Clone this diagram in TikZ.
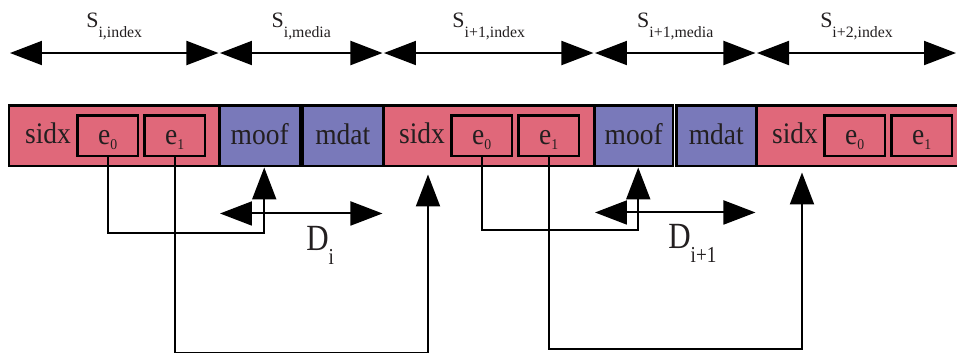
\documentclass[tikz,border=0pt]{standalone}
\usepackage{fontspec}
\setmainfont{Liberation Serif}
\newfontfamily\narrowfont[FakeStretch=0.84]{Liberation Serif}
\newfontfamily\wordfont[FakeStretch=0.92]{Liberation Serif}
\usetikzlibrary{arrows.meta}
\definecolor{idxred}{RGB}{224,104,122}
\definecolor{medblue}{RGB}{121,121,186}
\definecolor{ink}{RGB}{35,31,32}
\def\lw{0.05cm}
% lowered indices of the three label sizes
\newcommand{\esub}[1]{\raisebox{-0.1cm}{\fontsize{8.5pt}{8.5pt}\selectfont#1}}
\newcommand{\ssub}[1]{\raisebox{-0.2cm}{\fontsize{9pt}{9pt}\selectfont#1}}
\newcommand{\dsub}[1]{\raisebox{-0.28cm}{\fontsize{13pt}{13pt}\selectfont#1}}
\tikzset{>={Triangle[length=0.64cm,width=0.48cm]}}
\tikzset{box/.style={draw=black, line width=\lw, inner sep=0pt, anchor=north west, text=ink}}
\tikzset{idx/.style={box, fill=idxred, minimum height=1.22cm}}
\tikzset{med/.style={box, fill=medblue, minimum height=1.22cm, text height=0.78cm, text depth=0.44cm, font=\wordfont\fontsize{17pt}{18pt}\selectfont}}
\tikzset{entry/.style={box, fill=idxred, minimum width=1.22cm, minimum height=0.82cm, text height=0.58cm, text depth=0.24cm, font=\wordfont\fontsize{17pt}{18pt}\selectfont}}
\tikzset{word/.style={text=ink, inner sep=0pt, font=\wordfont\fontsize{17pt}{18pt}\selectfont}}
\tikzset{slbl/.style={text=ink, inner sep=0pt, font=\fontsize{12.5pt}{13pt}\selectfont}}
\tikzset{dlbl/.style={text=ink, inner sep=0pt, font=\narrowfont\fontsize{21pt}{22pt}\selectfont}}
\tikzset{link/.style={line width=0.04cm, ->}}
\tikzset{span/.style={line width=0.04cm, <->, shorten <=0.04cm, shorten >=0.04cm}}

\begin{document}
\begin{tikzpicture}[x=0.02cm, y=-0.02cm]
        \useasboundingbox (0,0) rectangle (957,352);
        % Segment index boxes with their two entries
        \foreach \s/\x/\w in {A/8/4.2, B/382/4.22, C/755/4.1} {
          \node[idx, minimum width=\w cm] (sidx\s) at (\x,104) {};
          \node[word, anchor=base] (name\s) at (\x+40,143) {sidx};
          \node[entry] (e0\s) at (\x+68,114) {e\esub{0}};
          \node[entry] (e1\s) at (\x+135,114) {e\esub{1}};
        }
        % Media boxes
        \node[med, minimum width=1.62cm] (moofA) at (218,104) {moof};
        \node[med, minimum width=1.62cm] (mdatA) at (301,104) {mdat};
        \node[med, minimum width=1.58cm] (moofB) at (593,104) {moof};
        \node[med, minimum width=1.6cm] (mdatB) at (675,104) {mdat};
        \coordinate (rim) at (958,104);
        % Sizes on top
        \foreach \a/\b/\t in {
          sidxA.north west/sidxA.north east/{i,index},
          moofA.north west/mdatA.north east/{i,media},
          sidxB.north west/sidxB.north east/{i+1,index},
          moofB.north west/mdatB.north east/{i+1,media},
          sidxC.north west/rim/{i+2,index}%
        } {
          \draw[span] ([yshift=1.02cm]\a) -- ([yshift=1.02cm]\b)
            node[slbl, midway, anchor=base, yshift=0.52cm] {S\ssub{\t}};
        }
        % Entries point to moof and to the next sidx
        \draw[link] (e0A.south) -- ++(0,76) -| ([xshift=0.09cm]moofA.south);
        \draw[link] (e1A.south) -- ++(0,196) -| ([xshift=0.92cm,yshift=-0.14cm]sidxB.south west);
        \draw[link] (e0B.south) -- ++(0,73) -| ([xshift=0.09cm]moofB.south);
        \draw[link] (e1B.south) -- ++(0,192) -| ([xshift=0.94cm,yshift=-0.1cm]sidxC.south west);
        % Durations
        \draw[span] ([yshift=-0.92cm]moofA.south west) -- ([yshift=-0.92cm]mdatA.south east);
        \draw[span] ([yshift=-0.9cm]moofB.south west) -- ([yshift=-0.9cm]mdatB.south east);
        \node[dlbl, anchor=base west] (durA) at (306,250) {D\dsub{i}};
        \node[dlbl, anchor=base west] (durB) at (668,248) {D\dsub{i+1}};
\end{tikzpicture}
\end{document}
